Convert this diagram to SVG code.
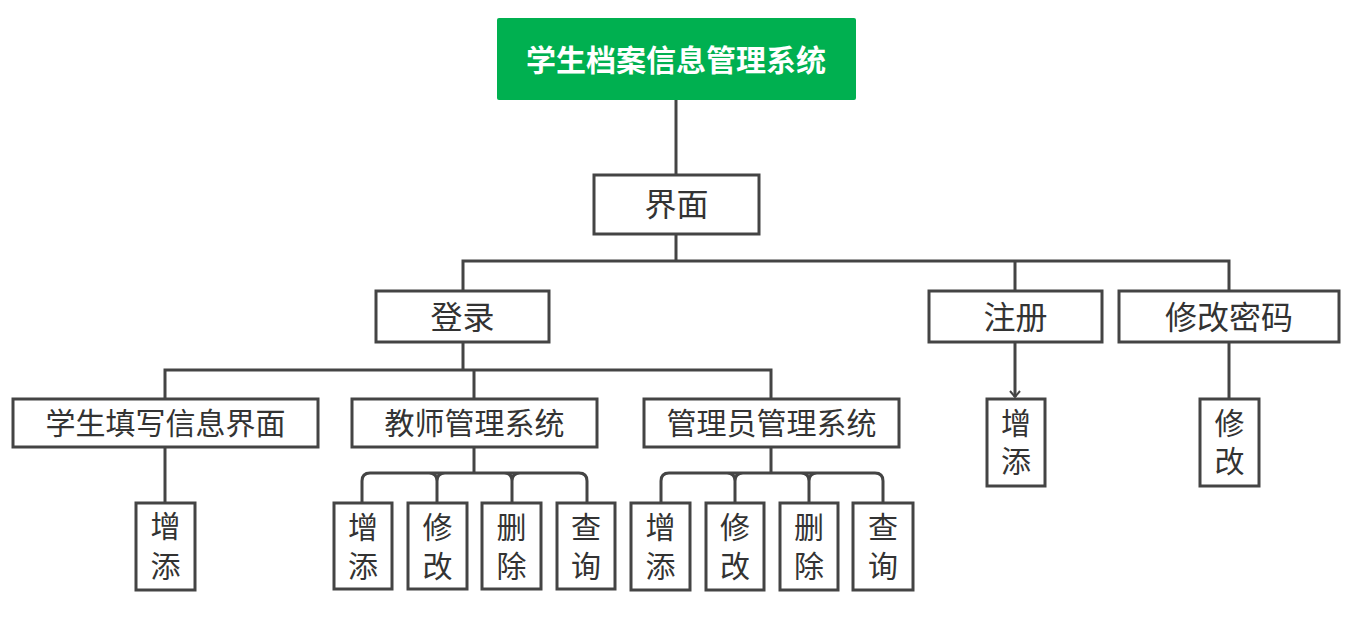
<svg xmlns="http://www.w3.org/2000/svg" width="1358" height="619" viewBox="0 0 1358 619">
<style>
.box{fill:#ffffff;stroke:#444444;stroke-width:3;}
.t{font-family:"Microsoft YaHei","Noto Sans CJK SC",sans-serif;font-size:30px;fill:#333333;text-anchor:middle;}
.t2{font-size:32px;}
.title{font-family:"Microsoft YaHei","Noto Sans CJK SC",sans-serif;font-size:30px;font-weight:bold;fill:#ffffff;text-anchor:middle;}
.c{fill:none;stroke:#444444;stroke-width:3;}
</style>
<defs>
<marker id="arr" viewBox="-8 -8 16 16" markerWidth="16" markerHeight="16" refX="0" refY="0" orient="auto" markerUnits="userSpaceOnUse">
<path d="M-6,-5 L0,0 L-6,5" fill="none" stroke="#444444" stroke-width="2"/>
</marker>
</defs>
<rect width="1358" height="619" fill="#ffffff"/>
<g id="connectors">
<path class="c" d="M676,100 V175"/>
<path class="c" d="M676,234 V261 M463,291 V261 H1229 V291 M1015,261 V291"/>
<path class="c" d="M463,342 V370 M165,399 V370 H771 V399 M474,370 V399"/>
<path class="c" d="M165,447 V503"/>
<path class="c" d="M1229,342 V399"/>
<path class="c" d="M1015,342 V397" marker-end="url(#arr)"/>
<path class="c" d="M474,447 V473 M362,503 V481 Q362,473 370,473 H579 Q587,473 587,481 V503 M437,503 V481 Q437,473 429,473 M437,481 Q437,473 445,473 M512,503 V481 Q512,473 504,473 M512,481 Q512,473 520,473"/>
<path class="c" d="M771,447 V473 M661,503 V481 Q661,473 669,473 H875 Q883,473 883,481 V503 M735,503 V481 Q735,473 727,473 M735,481 Q735,473 743,473 M809,503 V481 Q809,473 801,473 M809,481 Q809,473 817,473"/>
</g>
<g id="root">
<rect x="497" y="18" width="359" height="82" rx="2" fill="#00b050"/>
<text class="title" x="676" y="71">学生档案信息管理系统</text>
</g>
<g id="jiemian"><rect class="box" x="594" y="175" width="165" height="59"/><text class="t t2" x="676.5" y="216">界面</text></g>
<g id="denglu"><rect class="box" x="376" y="291" width="173" height="51"/><text class="t t2" x="462.5" y="329">登录</text></g>
<g id="zhuce"><rect class="box" x="929" y="291" width="173" height="51"/><text class="t t2" x="1015.5" y="329">注册</text></g>
<g id="xiugaimima"><rect class="box" x="1119" y="291" width="220" height="51"/><text class="t t2" x="1229" y="329">修改密码</text></g>
<g id="xuesheng"><rect class="box" x="13" y="399" width="305" height="48"/><text class="t" x="165.5" y="434">学生填写信息界面</text></g>
<g id="jiaoshi"><rect class="box" x="352" y="399" width="245" height="48"/><text class="t" x="474.5" y="434">教师管理系统</text></g>
<g id="guanliyuan"><rect class="box" x="644" y="399" width="255" height="48"/><text class="t" x="771.5" y="434">管理员管理系统</text></g>
<g id="zc-zengtian"><rect class="box" x="987" y="399" width="58" height="87"/><text class="t" x="1016" y="434">增<tspan x="1016" dy="38">添</tspan></text></g>
<g id="xg-xiugai"><rect class="box" x="1200" y="399" width="59" height="87"/><text class="t" x="1229.5" y="434">修<tspan x="1229.5" dy="38">改</tspan></text></g>
<g id="xs-zengtian"><rect class="box" x="136" y="503" width="59" height="87"/><text class="t" x="165.5" y="537">增<tspan x="165.5" dy="40">添</tspan></text></g>
<g id="js-zengtian"><rect class="box" x="334" y="503" width="58" height="86"/><text class="t" x="363" y="538">增<tspan x="363" dy="39">添</tspan></text></g>
<g id="js-xiugai"><rect class="box" x="408" y="503" width="59" height="86"/><text class="t" x="437.5" y="538">修<tspan x="437.5" dy="39">改</tspan></text></g>
<g id="js-shanchu"><rect class="box" x="482" y="503" width="59" height="86"/><text class="t" x="511.5" y="538">删<tspan x="511.5" dy="39">除</tspan></text></g>
<g id="js-chaxun"><rect class="box" x="557" y="503" width="58" height="86"/><text class="t" x="586" y="538">查<tspan x="586" dy="39">询</tspan></text></g>
<g id="gl-zengtian"><rect class="box" x="631" y="503" width="59" height="87"/><text class="t" x="660.5" y="538">增<tspan x="660.5" dy="39">添</tspan></text></g>
<g id="gl-xiugai"><rect class="box" x="706" y="503" width="58" height="87"/><text class="t" x="735" y="538">修<tspan x="735" dy="39">改</tspan></text></g>
<g id="gl-shanchu"><rect class="box" x="780" y="503" width="58" height="87"/><text class="t" x="809" y="538">删<tspan x="809" dy="39">除</tspan></text></g>
<g id="gl-chaxun"><rect class="box" x="853" y="503" width="60" height="87"/><text class="t" x="883" y="538">查<tspan x="883" dy="39">询</tspan></text></g>
</svg>
